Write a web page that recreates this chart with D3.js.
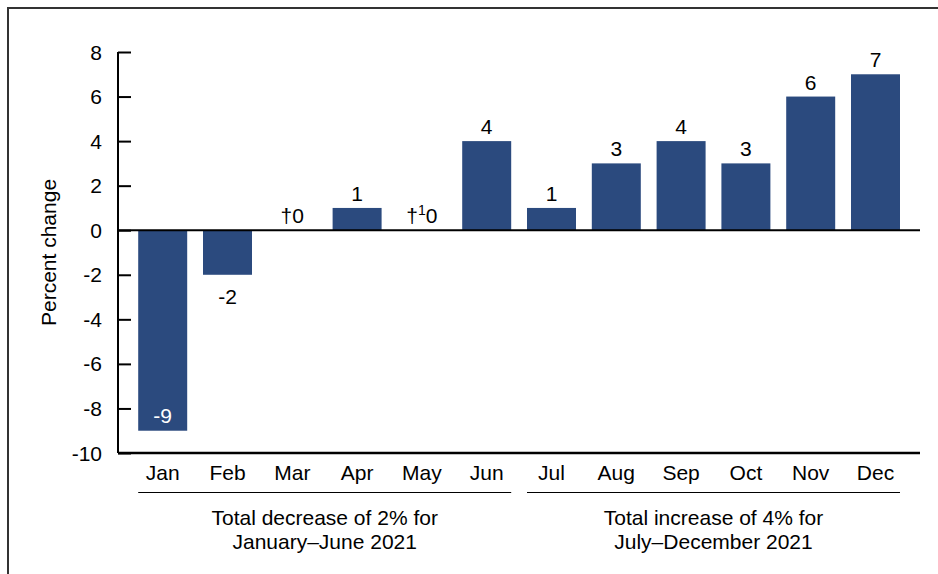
<!DOCTYPE html>
<html><head><meta charset="utf-8">
<script src="https://cdn.jsdelivr.net/npm/d3@7/dist/d3.min.js"></script>
<style>body{margin:0;background:#fff}svg{display:block}text{font-family:"Liberation Sans",Arial,sans-serif;fill:#000}</style>
</head><body><svg id="c" width="938" height="574"></svg>
<script>
const months = ["Jan","Feb","Mar","Apr","May","Jun","Jul","Aug","Sep","Oct","Nov","Dec"];
const values = [-9,-2,0,1,0,4,1,3,4,3,6,7];
const valueLabels = ["-9","-2","†0","1","†|0","4","1","3","4","3","6","7"];
const yTicks = [8,6,4,2,0,-2,-4,-6,-8,-10];
const groups = [
  {from:"Jan", to:"Jun", lines:["Total decrease of 2% for","January\u2013June 2021"]},
  {from:"Jul", to:"Dec", lines:["Total increase of 4% for","July\u2013December 2021"]}
];
const FS = "21px";
const svg = d3.select("#c");
svg.append("rect").attr("x",8).attr("y",8).attr("width",960).attr("height",600)
  .attr("fill","none").attr("stroke","#333").attr("stroke-width",2);

const y = d3.scaleLinear().domain([-10,8]).range([453,52]);
const x = d3.scaleBand().domain(months).range([130.3,907.9]).paddingInner(0.244).paddingOuter(0.122);
const axX = 118, axRight = 920;

// y axis
const yAxis = d3.axisRight(y).tickValues(yTicks).tickSize(13).tickFormat("");
const gy = svg.append("g").attr("transform",`translate(${axX},0)`).call(yAxis);
gy.select(".domain").attr("stroke","#000").attr("stroke-width",2).attr("d",`M0,${y(8)}V${y(-10)}`);
gy.selectAll(".tick line").attr("stroke","#000").attr("stroke-width",2);
svg.append("g").selectAll("text").data(yTicks).join("text")
  .attr("x",102).attr("y",d=>y(d)).attr("dy","0.36em").attr("text-anchor","end")
  .style("font-size",FS).text(d=>d);
svg.append("text").attr("transform",`translate(56,${y(-1)}) rotate(-90)`)
  .attr("text-anchor","middle").style("font-size",FS).text("Percent change");

// bars
svg.append("g").selectAll("rect").data(months).join("rect")
  .attr("x",d=>x(d)).attr("width",x.bandwidth())
  .attr("y",(d,i)=>y(Math.max(0,values[i])))
  .attr("height",(d,i)=>Math.abs(y(values[i])-y(0)))
  .attr("fill","#2b4a7e");

// zero line and bottom line
svg.append("line").attr("x1",axX).attr("x2",axRight).attr("y1",y(0)).attr("y2",y(0)).attr("stroke","#000").attr("stroke-width",2);
svg.append("line").attr("x1",axX).attr("x2",axRight).attr("y1",y(-10)).attr("y2",y(-10)).attr("stroke","#000").attr("stroke-width",2.5);

// value labels
const vl = svg.append("g").selectAll("text").data(months).join("text")
  .attr("x",d=>x(d)+x.bandwidth()/2).attr("text-anchor","middle").style("font-size",FS)
  .attr("y",(d,i)=>{
    const v=values[i];
    if (v<=-5) return y(v)-8;
    if (v<0) return y(v)+29;
    return y(v)-7;
  })
  .style("fill",(d,i)=>values[i]<=-5?"#fff":"#000");
vl.each(function(d,i){
  const t=d3.select(this), s=valueLabels[i];
  if (s.includes("|")) {
    const [a,b]=s.split("|");
    t.append("tspan").text(a);
    t.append("tspan").attr("dy",-8).style("font-size","14px").text("1");
    t.append("tspan").attr("dy",8).text(b);
  } else t.text(s);
});

// month labels
svg.append("g").selectAll("text").data(months).join("text")
  .attr("x",d=>x(d)+x.bandwidth()/2).attr("y",480).attr("text-anchor","middle")
  .style("font-size",FS).text(d=>d);

// group underlines and labels
groups.forEach(g=>{
  const x1=x(g.from), x2=x(g.to)+x.bandwidth();
  svg.append("line").attr("x1",x1).attr("x2",x2).attr("y1",492.5).attr("y2",492.5).attr("stroke","#000").attr("stroke-width",1.2);
  const t=svg.append("text").attr("x",(x1+x2)/2).attr("text-anchor","middle").style("font-size",FS);
  g.lines.forEach((l,k)=>t.append("tspan").attr("x",(x1+x2)/2).attr("y",525+k*24).text(l));
});
</script></body></html>
